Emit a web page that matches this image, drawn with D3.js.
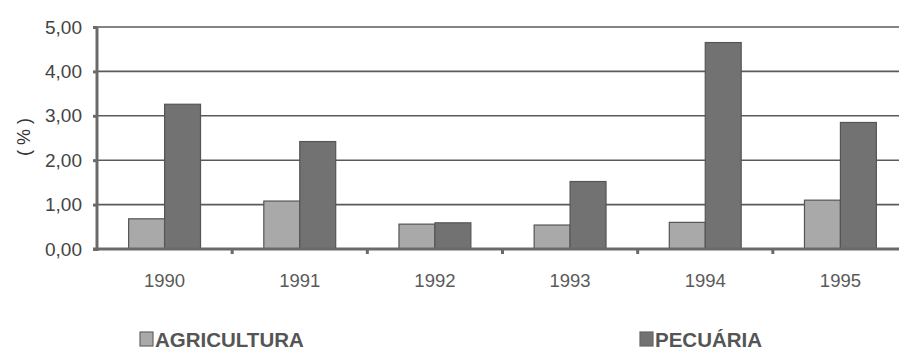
<!DOCTYPE html>
<html>
<head>
<meta charset="utf-8">
<script src="https://cdn.jsdelivr.net/npm/d3@7"></script>
<style>
  html, body { margin: 0; padding: 0; background: #fff; }
  svg { display: block; }
</style>
</head>
<body>
<svg id="chart" width="899" height="349"></svg>
<script>
// Participação anual (%) — agricultura e pecuária
const years = ["1990", "1991", "1992", "1993", "1994", "1995"];
const agricultura = [0.68, 1.08, 0.56, 0.54, 0.60, 1.10];
const pecuaria = [3.26, 2.42, 0.59, 1.52, 4.65, 2.85];
const yTicks = [0, 1, 2, 3, 4, 5];
const seriesNames = ["AGRICULTURA", "PECUÁRIA"];
const seriesColors = ["#a9a9a9", "#727272"];

(function draw() {
  const svg = d3.select("#chart");
  const W = 899;
  const plotLeft = 97, plotRight = 908, plotTop = 27, plotBottom = 249;
  const font = "'Liberation Sans', Arial, sans-serif";

  const x = d3.scaleBand().domain(years).range([plotLeft, plotRight]).padding(0);
  const y = d3.scaleLinear().domain([0, 5]).range([plotBottom, plotTop]);
  const inner = d3.scaleBand().domain(seriesNames).range([0, x.bandwidth()])
    .paddingInner(0).paddingOuter(0.88);

  // Horizontal grid lines
  svg.append("g").selectAll("line").data(yTicks.filter(d => d > 0)).join("line")
    .attr("x1", plotLeft).attr("x2", W)
    .attr("y1", d => y(d)).attr("y2", d => y(d))
    .attr("stroke", "#5a5a5a").attr("stroke-width", 1.6);

  // Bars
  const rows = years.map((yr, i) => ({ yr, vals: [agricultura[i], pecuaria[i]] }));
  const groups = svg.append("g").selectAll("g").data(rows).join("g")
    .attr("transform", d => `translate(${x(d.yr)},0)`);
  groups.selectAll("rect").data(d => d.vals.map((v, k) => ({ v, k }))).join("rect")
    .attr("x", d => inner(seriesNames[d.k]))
    .attr("width", inner.bandwidth())
    .attr("y", d => y(d.v))
    .attr("height", d => y(0) - y(d.v))
    .attr("fill", d => seriesColors[d.k])
    .attr("stroke", "#555")
    .attr("stroke-width", 1.2);

  // Y axis
  const yAxis = d3.axisLeft(y).tickValues(yTicks).tickSize(4).tickPadding(11)
    .tickFormat(d => d3.format(".2f")(d).replace(".", ","));
  const gy = svg.append("g").attr("transform", `translate(${plotLeft},0)`).call(yAxis);
  gy.select(".domain").attr("stroke", "#6a6a6a").attr("stroke-width", 3)
    .attr("d", `M0,${plotTop}V${plotBottom + 2}`);
  gy.selectAll(".tick line").attr("stroke", "#6a6a6a").attr("stroke-width", 3);
  gy.selectAll(".tick text").attr("fill", "#444")
    .style("font-family", font).style("font-size", "19px");

  // X axis
  const xAxis = d3.axisBottom(x).tickSize(0).tickPadding(25);
  const gx = svg.append("g").attr("transform", `translate(0,${plotBottom})`).call(xAxis);
  gx.select(".domain").attr("stroke", "#6a6a6a").attr("stroke-width", 3)
    .attr("d", `M${plotLeft - 4},0H${W}`);
  gx.selectAll(".tick text").attr("fill", "#5a5a5a")
    .style("font-family", font).style("font-size", "18.5px");
  // Category separators below the axis
  svg.append("g").selectAll("line").data(years.slice(1)).join("line")
    .attr("x1", d => x(d)).attr("x2", d => x(d))
    .attr("y1", plotBottom).attr("y2", plotBottom + 5)
    .attr("stroke", "#6a6a6a").attr("stroke-width", 3);

  // Y axis title
  svg.append("text")
    .attr("transform", `translate(30,${(plotTop + plotBottom) / 2 - 1}) rotate(-90)`)
    .attr("text-anchor", "middle")
    .attr("fill", "#333")
    .style("font-family", font).style("font-size", "18px")
    .text("( % )");

  // Legend
  const legendX = [140, 640];
  const leg = svg.append("g").selectAll("g").data(seriesNames).join("g")
    .attr("transform", (d, i) => `translate(${legendX[i]},332)`);
  leg.append("rect").attr("width", 13).attr("height", 14)
    .attr("fill", (d, i) => seriesColors[i]).attr("stroke", "#666").attr("stroke-width", 1.2);
  leg.append("text").attr("x", 15).attr("y", 14.5)
    .attr("fill", "#555")
    .style("font-family", font)
    .style("font-size", "20.5px").style("font-weight", "bold")
    .text(d => d);
})();
</script>
</body>
</html>
